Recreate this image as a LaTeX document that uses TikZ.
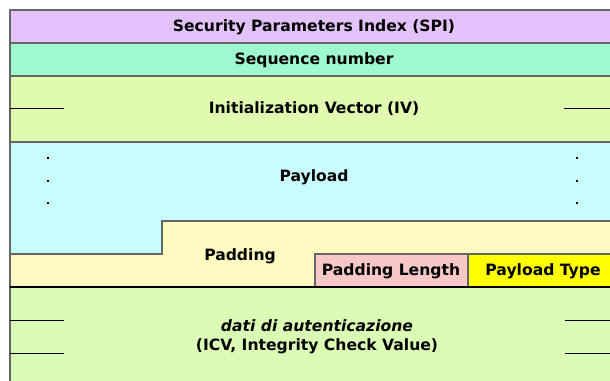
\documentclass[tikz,border=0pt]{standalone}
\usepackage{fontspec}
\setmainfont{DejaVu Sans}
\begin{document}
\begin{tikzpicture}[x=1pt,y=-1pt,
  fld/.style={draw=gray!80!black,line width=1.1pt},
  lbl/.style={font=\fontsize{15.6}{19}\selectfont\bfseries,inner sep=0pt},
  tick/.style={line width=1pt,black},
  dotm/.style={fill=black,inner sep=0pt,minimum size=2.8pt,rectangle}]
\definecolor{cSPI}{HTML}{E2C2F8}
\definecolor{cSeq}{HTML}{9EF9CF}
\definecolor{cIV}{HTML}{E0FAB0}
\definecolor{cPay}{HTML}{C8FCFF}
\definecolor{cPad}{HTML}{FFFBC0}
\definecolor{cPL}{HTML}{F8C8C8}
\definecolor{cPT}{HTML}{FFFF00}
\definecolor{cAuth}{HTML}{DAFCB4}
\useasboundingbox (0,0) rectangle (610,380);
\clip (0,0) rectangle (610,380);
\fill[white] (0,0) rectangle (610,380);
% fields
\filldraw[fld,fill=cSPI] (10,10) rectangle (620,43);
\filldraw[fld,fill=cSeq] (10,43) rectangle (620,76);
\filldraw[fld,fill=cIV] (10,76) rectangle (620,142);
\filldraw[fld,fill=cPay] (10,142) rectangle (620,254);
\filldraw[fld,fill=cPad] (10,254) -- (162,254) -- (162,221) -- (620,221) -- (620,287) -- (10,287) -- cycle;
\filldraw[fld,fill=cPL] (315,254) rectangle (468,287);
\filldraw[fld,fill=cPT] (468,254) rectangle (620,287);
\filldraw[fld,fill=cAuth] (10,287) rectangle (620,400);
\draw[line width=1.1pt,black] (10,287) -- (620,287);
% labels
\node[lbl] (spi) at (314,27) {Security Parameters Index (SPI)};
\node[lbl] (seq) at (314,60) {Sequence number};
\node[lbl] (iv) at (314,109) {Initialization Vector (IV)};
\node[lbl] (pay) at (314,177) {Payload};
\node[lbl] (pad) at (240,256) {Padding};
\node[lbl] (pl) at (391,271) {Padding Length};
\node[lbl] (pt) at (543,271) {Payload Type};
\node[lbl,align=center] (auth) at (317,337) {\textit{dati di autenticazione}\\(ICV, Integrity Check Value)};
% ticks
\draw[tick] (10,108) -- (64,108);
\draw[tick] (564,108) -- (610,108);
\draw[tick] (10,320) -- (64,320);
\draw[tick] (10,353) -- (64,353);
\draw[tick] (565,320) -- (610,320);
\draw[tick] (565,353) -- (610,353);
% dots
\foreach \yy in {158,181,203} {
  \node[dotm] at (48,\yy) {};
  \node[dotm] at (577,\yy) {};
}
\end{tikzpicture}
\end{document}
